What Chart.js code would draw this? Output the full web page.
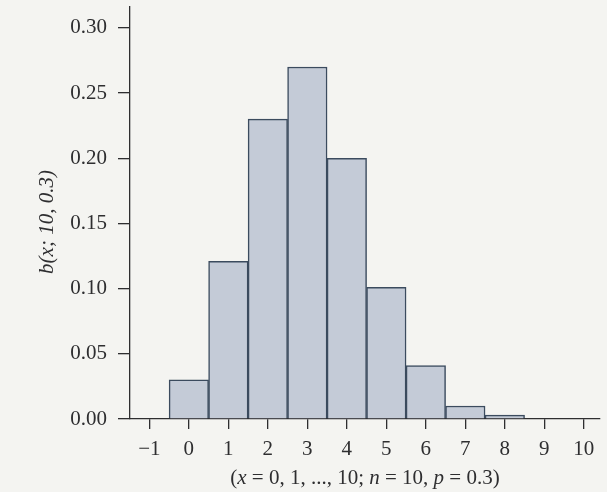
<!DOCTYPE html>
<html>
<head>
<meta charset="utf-8">
<script src="https://cdn.jsdelivr.net/npm/chart.js@4.4.1/dist/chart.umd.min.js"></script>
<style>
    html, body { margin: 0; padding: 0; background: #f4f4f1; }
    #wrap { width: 607px; height: 492px; position: relative; }
</style>
</head>
<body>
<div id="wrap"><canvas id="binom"></canvas></div>
<script>
// b(x; 10, 0.3)
const X_VALUES = [0, 1, 2, 3, 4, 5, 6, 7, 8, 9, 10];
const PROBS = [0.030, 0.121, 0.230, 0.270, 0.200, 0.101, 0.041, 0.010, 0.003, 0, 0];
const X_TICKS = [-1, 0, 1, 2, 3, 4, 5, 6, 7, 8, 9, 10];
const Y_TICKS = [0, 0.05, 0.10, 0.15, 0.20, 0.25, 0.30];
const Y_TITLE = 'b(x; 10, 0.3)';
const X_TITLE = [['(', false], ['x', true], [' = 0, 1, ..., 10; ', false], ['n', true], [' = 10, ', false], ['p', true], [' = 0.3)', false]];

const INK = '#2e2e30';
const BAR = '#c4cbd7';
const EDGE = '#3b4b5e';
const SERIF = '"Liberation Serif", "Times New Roman", serif';
const SIZE = 21;

const serif = (italic) => `${italic ? 'italic ' : ''}${SIZE}px ${SERIF}`;

// titulos dibujados a mano para poder mezclar cursiva y redonda
const axisTitles = {
    id: 'axisTitles',
    afterDraw(chart) {
        const { ctx, chartArea } = chart;
        ctx.save();
        ctx.fillStyle = INK;
        ctx.textBaseline = 'middle';

        let total = 0;
        X_TITLE.forEach(([t, it]) => { ctx.font = serif(it); total += ctx.measureText(t).width; });
        let x = (chartArea.left + chartArea.right) / 2 - total / 2;
        X_TITLE.forEach(([t, it]) => {
            ctx.font = serif(it);
            ctx.fillText(t, x, 478);
            x += ctx.measureText(t).width;
        });

        ctx.translate(47, 222);
        ctx.rotate(-Math.PI / 2);
        ctx.textAlign = 'center';
        ctx.font = serif(true);
        ctx.fillText(Y_TITLE, 0, 0);
        ctx.restore();
    },
};

new Chart(document.getElementById('binom'), {
    type: 'bar',
    data: {
        datasets: [{
            data: X_VALUES.map((v, i) => ({ x: v, y: PROBS[i] })),
            backgroundColor: BAR,
            borderColor: EDGE,
            borderWidth: 1.5,
            borderSkipped: 'start',
            barPercentage: 1,
            categoryPercentage: 1,
        }],
    },
    options: {
        responsive: true,
        maintainAspectRatio: false,
        animation: false,
        layout: { padding: { top: 7, right: 7, left: 0, bottom: 0 } },
        plugins: { legend: { display: false }, tooltip: { enabled: false } },
        scales: {
            x: {
                type: 'linear',
                offset: false,
                min: -1.49,
                max: 10.41,
                afterBuildTicks: (scale) => { scale.ticks = X_TICKS.map((v) => ({ value: v })); },
                afterFit: (scale) => {
                    scale.height = 73;
                    scale.paddingLeft = 0;
                    scale.paddingRight = 0;
                },
                ticks: {
                    color: INK,
                    font: { family: SERIF, size: SIZE },
                    padding: 8,
                    maxRotation: 0,
                    autoSkip: false,
                    callback: (v) => (v < 0 ? '\u2212' + Math.abs(v) : String(v)),
                },
                grid: { offset: false, drawOnChartArea: false, tickLength: 10, color: INK, lineWidth: 1.3 },
                border: { display: true, color: INK, width: 1.3 },
            },
            y: {
                min: 0,
                max: 0.316,
                afterBuildTicks: (scale) => { scale.ticks = Y_TICKS.map((v) => ({ value: v })); },
                afterFit: (scale) => {
                    scale.width = 130;
                    scale.paddingTop = 0;
                    scale.paddingBottom = 0;
                },
                ticks: {
                    color: INK,
                    font: { family: SERIF, size: SIZE },
                    padding: 11,
                    callback: (v) => v.toFixed(2),
                },
                grid: { drawOnChartArea: false, tickLength: 12, color: INK, lineWidth: 1.3 },
                border: { display: true, color: INK, width: 1.3 },
            },
        },
    },
    plugins: [axisTitles],
});
</script>
</body>
</html>
